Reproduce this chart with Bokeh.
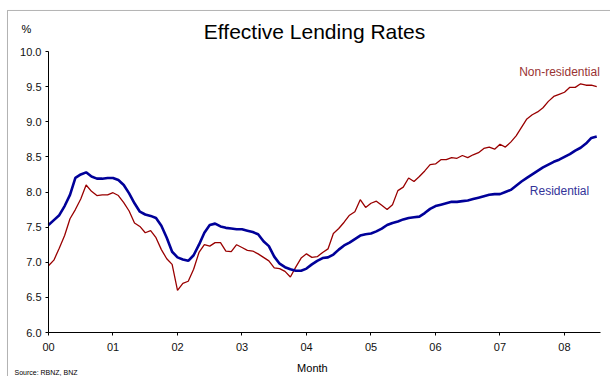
from bokeh.plotting import figure
from bokeh.models import (Range1d, FixedTicker, Label, BoxAnnotation, ColumnDataSource,
                          NumeralTickFormatter)
from bokeh.embed import file_html
from bokeh.resources import INLINE

years = ["00", "01", "02", "03", "04", "05", "06", "07", "08"]

residential = [
    7.53, 7.60, 7.67, 7.80, 7.96, 8.20, 8.25, 8.28, 8.22, 8.19, 8.19, 8.20,
    8.20, 8.17, 8.10, 7.98, 7.84, 7.72, 7.68, 7.66, 7.63, 7.52, 7.35, 7.15,
    7.07, 7.04, 7.02, 7.10, 7.25, 7.42, 7.53, 7.55, 7.51, 7.49, 7.48, 7.47,
    7.47, 7.45, 7.43, 7.40, 7.30, 7.23, 7.08, 6.98, 6.93, 6.90, 6.88, 6.88,
    6.91, 6.97, 7.02, 7.06, 7.07, 7.11, 7.18, 7.24, 7.28, 7.33, 7.38, 7.40,
    7.41, 7.44, 7.48, 7.53, 7.56, 7.58, 7.61, 7.63, 7.64, 7.65, 7.70, 7.76,
    7.80, 7.82, 7.84, 7.86, 7.86, 7.87, 7.88, 7.90, 7.92, 7.94, 7.96, 7.97,
    7.97, 8.00, 8.03, 8.09, 8.15, 8.20, 8.25, 8.30, 8.35, 8.39, 8.43, 8.46,
    8.50, 8.54, 8.59, 8.63, 8.69, 8.77, 8.79,
]

non_residential = [
    6.95, 7.03, 7.20, 7.38, 7.62, 7.75, 7.90, 8.10, 8.01, 7.95, 7.96, 7.96,
    7.99, 7.95, 7.85, 7.73, 7.56, 7.51, 7.42, 7.45, 7.35, 7.18, 7.05, 6.97,
    6.60, 6.70, 6.73, 6.90, 7.14, 7.25, 7.23, 7.28, 7.28, 7.16, 7.15, 7.25,
    7.21, 7.17, 7.16, 7.12, 7.07, 7.02, 6.92, 6.91, 6.87, 6.79, 6.93, 7.06,
    7.12, 7.07, 7.08, 7.14, 7.19, 7.41, 7.48, 7.57, 7.67, 7.72, 7.89, 7.78,
    7.84, 7.87, 7.81, 7.75, 7.82, 8.02, 8.07, 8.20, 8.15, 8.22, 8.30, 8.39,
    8.40, 8.46, 8.46, 8.49, 8.48, 8.52, 8.49, 8.53, 8.56, 8.62, 8.64, 8.61,
    8.68, 8.64, 8.71, 8.80, 8.92, 9.04, 9.10, 9.14, 9.20, 9.29, 9.36, 9.39,
    9.42, 9.49, 9.49, 9.54, 9.52, 9.52, 9.50,
]

months = list(range(len(residential)))
src = ColumnDataSource(dict(m=months, res=residential, nonres=non_residential))

FONT = "Liberation Sans"

# Frame covers the whole canvas; axes are pinned at x=0 / y=6 so that
# the text around the chart is not clipped.
p = figure(width=610, height=376, output_backend="svg", toolbar_location=None,
           x_range=Range1d(-8.93, 104.56), y_range=Range1d(5.374, 10.726),
           min_border_left=0, min_border_right=0, min_border_top=0, min_border_bottom=0)
p.outline_line_color = None
p.grid.visible = False
p.background_fill_color = "white"
p.border_fill_color = "white"

p.xaxis.fixed_location = 6.0
p.yaxis.fixed_location = 0
p.xaxis.bounds = (0, 102.7)
p.yaxis.bounds = (6.0, 10.0)

p.xaxis.ticker = FixedTicker(ticks=[12 * i for i in range(len(years))])
p.xaxis.major_label_overrides = {12 * i: y for i, y in enumerate(years)}
p.yaxis.ticker = FixedTicker(ticks=[6.0, 6.5, 7.0, 7.5, 8.0, 8.5, 9.0, 9.5, 10.0])
p.yaxis.formatter = NumeralTickFormatter(format="0.0")
for ax in (p.xaxis, p.yaxis):
    ax.minor_tick_line_color = None
    ax.major_tick_in = 0
    ax.major_tick_out = 3
    ax.axis_line_color = "black"
    ax.major_tick_line_color = "black"
    ax.major_label_text_font = FONT
    ax.major_label_text_font_size = "11px"
    ax.major_label_text_color = "#111111"
p.xaxis.major_label_standoff = 7
p.yaxis.major_label_standoff = 4

p.line("m", "nonres", source=src, line_color="#990000", line_width=1.3)
p.line("m", "res", source=src, line_color="#000099", line_width=2.6)

def lbl(x, y, text, size, color="black", align="center"):
    p.add_layout(Label(x=x, y=y, text=text, text_font=FONT, text_font_size=size,
                       text_color=color, text_align=align, text_baseline="middle"))

lbl(49.5, 10.285, "Effective Lending Rates", "21px")
lbl(-4.1, 10.327, "%", "11px")
lbl(49.1, 5.49, "Month", "11px")
lbl(-6.33, 5.43, "Source: RBNZ, BNZ", "7px", align="left")
lbl(95.07, 9.715, "Non-residential", "12px", color="#993333")
lbl(95.07, 8.021, "Residential", "12px", color="#333399")

p.add_layout(BoxAnnotation(left=-7.63, right=110, top=10.584, bottom=5.0,
                           fill_alpha=0, line_color="black", line_width=1))

open("out.html", "w").write(file_html(p, INLINE))
